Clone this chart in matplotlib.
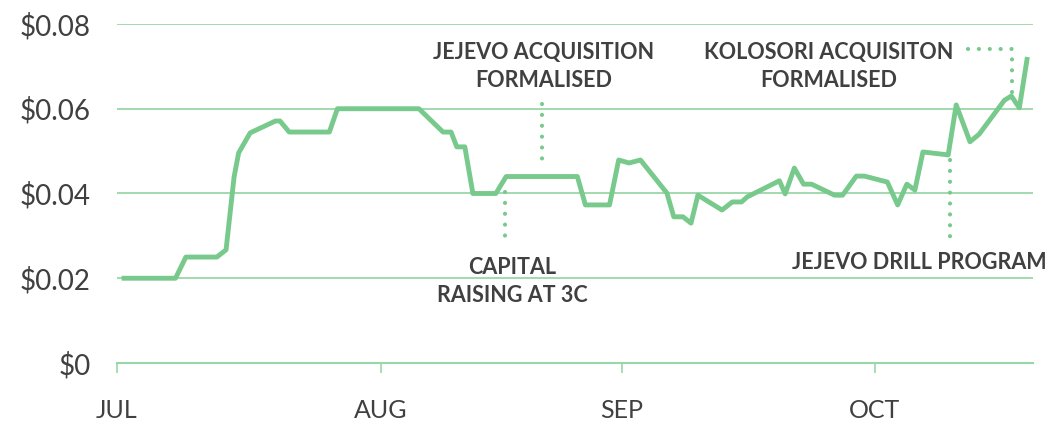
import matplotlib
matplotlib.use("Agg")
import matplotlib.pyplot as plt

# trading-day index (0 = 1 Jul) and share price
days = [0.4, 5.1, 6.0, 8.7, 9.5, 10.2, 10.6, 11.6, 13.8, 14.2, 15.0, 18.5, 19.2,
        26.3, 28.4, 29.1, 29.6, 30.3, 31.0, 33.0, 33.9, 40.1, 40.8, 42.9, 43.7,
        44.6, 45.6, 47.9, 48.5, 49.3, 50.0, 50.6, 52.7, 53.6, 54.4, 54.9, 57.7,
        58.2, 59.0, 59.8, 60.5, 62.5, 63.2, 64.4, 65.1, 67.1, 68.0, 68.8, 69.5,
        70.2, 72.4, 73.1, 74.3, 75.1, 77.3, 77.9, 78.6, 79.3]
price = [0.020, 0.020, 0.025, 0.025, 0.0267, 0.0439, 0.0496, 0.0543, 0.0571, 0.0571,
         0.0545, 0.0545, 0.060, 0.060, 0.0545, 0.0545, 0.051, 0.051, 0.040, 0.040,
         0.044, 0.044, 0.0373, 0.0373, 0.0479, 0.0472, 0.0479, 0.0401, 0.0345, 0.0345,
         0.033, 0.0396, 0.0361, 0.038, 0.038, 0.0392, 0.043, 0.0399, 0.046, 0.0422,
         0.0422, 0.0396, 0.0396, 0.0441, 0.0441, 0.0427, 0.0373, 0.0422, 0.0408,
         0.0498, 0.0491, 0.0609, 0.0522, 0.054, 0.062, 0.063, 0.0602, 0.0722]

month_days = [0, 23, 44, 66]
month_labels = ["JUL", "AUG", "SEP", "OCT"]
y_ticks = [0, 0.02, 0.04, 0.06, 0.08]
y_labels = ["$0", "$0.02", "$0.04", "$0.06", "$0.08"]

# event notes: text, text position, dotted leader
events = [
    ("JEJEVO ACQUISITION\nFORMALISED", (37.2, 0.0700), [(37.0, 0.0611), (37.0, 0.0481)]),
    ("CAPITAL\nRAISING AT 3C", (34.4, 0.0192), [(33.8, 0.0404), (33.8, 0.0297)]),
    ("KOLOSORI ACQUISITON\nFORMALISED", (62.0, 0.0700), [(74.1, 0.0741), (78.0, 0.0741), (78.0, 0.0637)]),
    ("JEJEVO DRILL PROGRAM", (69.9, 0.0238), [(72.6, 0.0479), (72.6, 0.0297)]),
]

green = "#78C98C"
grid_green = "#9AD7A8"
text_col = "#404040"

plt.rcParams['font.family'] = ['Lato', 'DejaVu Sans']

fig = plt.figure(figsize=(10.51, 4.22), dpi=100)
ax = fig.add_axes([0.1113, 0.1398, 0.8717, 0.8034])

ax.plot(days, price, color=green, lw=3.5, solid_joinstyle='round', solid_capstyle='butt', zorder=3)

for label, (tx, ty), pts in events:
    xs = [p[0] for p in pts]
    ys = [p[1] for p in pts]
    ax.plot(xs, ys, color=green, lw=3.0, dashes=[0.01, 2.6],
            dash_capstyle='round', zorder=2, clip_on=False)
    ax.text(tx, ty, label, ha='center', va='center', fontsize=15.5,
            fontweight='bold', color=text_col, linespacing=1.45, clip_on=False)

ax.set_xlim(0, 79.8)
ax.set_ylim(0, 0.08)
ax.set_yticks(y_ticks)
ax.set_yticklabels(y_labels)
ax.set_xticks(month_days)
ax.set_xticklabels(month_labels)

for v in y_ticks[1:]:
    ax.axhline(v, color=grid_green, lw=1.3, zorder=1)

for s in ['top', 'right', 'left']:
    ax.spines[s].set_visible(False)
ax.spines['bottom'].set_color(grid_green)
ax.spines['bottom'].set_linewidth(1.5)

ax.tick_params(axis='y', length=0, pad=19, labelsize=20, labelcolor=text_col)
ax.tick_params(axis='x', length=7, width=1.2, color=grid_green, pad=19,
               labelsize=18, labelcolor=text_col)

fig.savefig("out.png", dpi=100, facecolor="white")
